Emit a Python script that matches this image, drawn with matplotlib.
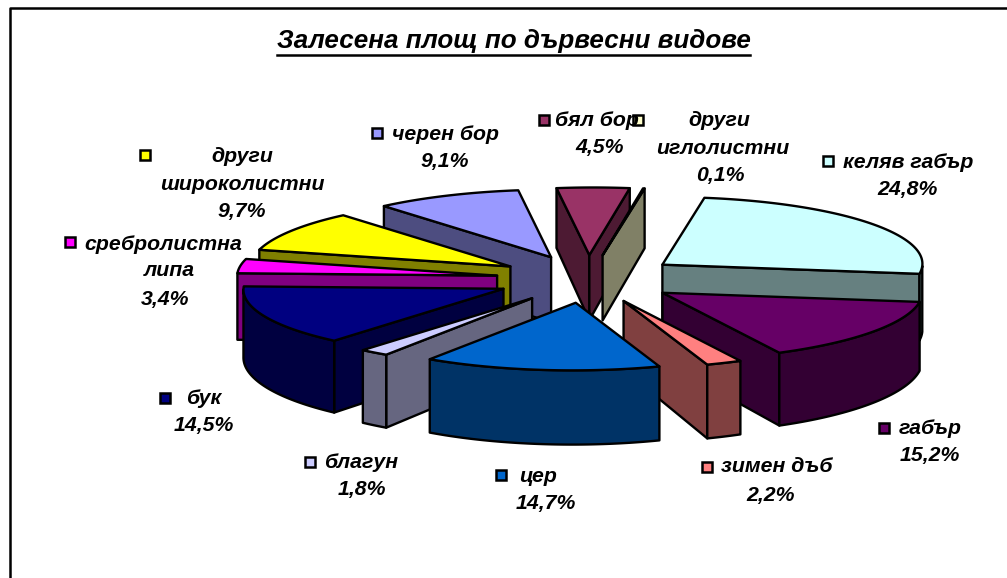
import numpy as np
import matplotlib
matplotlib.use("Agg")
import matplotlib.pyplot as plt
from matplotlib.patches import Polygon, Rectangle

plt.rcParams["font.family"] = ["Liberation Sans", "DejaVu Sans"]

# data, clockwise from the top of the pie
species = ["келяв габър", "габър", "зимен дъб", "цер", "благун", "бук",
           "сребролистна липа", "други широколистни", "черен бор", "бял бор",
           "други иглолистни"]
shares = [24.8, 15.2, 2.2, 14.7, 1.8, 14.5, 3.4, 9.7, 9.1, 4.5, 0.1]
colors = ["#CCFFFF", "#660066", "#FF8080", "#0066CC", "#CCCCFF", "#000080",
          "#FF00FF", "#FFFF00", "#9999FF", "#993366", "#FFFFCC"]
title = "Залесена площ по дървесни видове"

# label lines as they break in the picture
label_lines = [["келяв габър"], ["габър"], ["зимен дъб"], ["цер"], ["благун"], ["бук"],
               ["сребролистна", "липа"], ["други", "широколистни"], ["черен бор"],
               ["бял бор"], ["други", "иглолистни"]]

# layout, image pixels: legend key, then centre of each text line
label_layout = [
    ((828, 161), [(908, 163), (908, 190)]),
    ((884, 428), [(930, 428), (930, 456)]),
    ((707, 467), [(777, 467), (771, 495)]),
    ((501, 475), [(538, 476), (546, 503)]),
    ((310, 462), [(361, 463), (362, 490)]),
    ((165, 398), [(204, 398), (204, 425)]),
    ((70, 242), [(163, 244), (169, 271), (165, 299)]),
    ((145, 155), [(242, 156), (242, 184), (242, 211)]),
    ((377, 133), [(445, 134), (445, 161)]),
    ((544, 120), [(597, 120), (600, 148)]),
    ((638, 120), [(719, 120), (723, 148), (720, 176)]),
]

# pie geometry in image pixels
cx, cy = 588.0, 279.0
rx = 260.0
tilt = 0.26
skew = 0.014   # the pie leans a little to the right at the back
explode = 92.0
height = 67.0
persp = 0.08   # walls get taller towards the viewer
start = 8.5
edge = dict(edgecolor="black", linewidth=1.7, joinstyle="round")


def project(a, r, off, z=0.0):
    # a: clockwise angle from the back of the pie, off: explosion of the slice centre
    wx = off[0] + r * np.sin(a)
    wy = off[1] + r * np.cos(a)
    return cx + wx + skew * wy, cy - tilt * wy + z * (1 - persp * wy / rx)


def draw_slice(ax, a0, a1, color):
    mid = (a0 + a1) / 2
    off = (explode * np.sin(mid), explode * np.cos(mid))
    dark = tuple(0.5 * c for c in matplotlib.colors.to_rgb(color))
    arc = np.linspace(a0, a1, 80)

    def wall(ang):
        p = [project(ang, 0, off), project(ang, rx, off),
             project(ang, rx, off, height), project(ang, 0, off, height)]
        ax.add_patch(Polygon(p, closed=True, facecolor=dark, **edge))

    # only faces turned to the viewer
    if np.sin(a0) < 0:
        wall(a0)
    if np.sin(a1) > 0:
        wall(a1)

    front = arc[np.cos(arc) < 0]
    if len(front) > 1:
        tx, ty = project(front, rx, off)
        bx, by = project(front, rx, off, height)
        p = np.column_stack([np.r_[tx, bx[::-1]], np.r_[ty, by[::-1]]])
        ax.add_patch(Polygon(p, closed=True, facecolor=dark, **edge))

    tx, ty = project(arc, rx, off)
    ax0, ay0 = project(a0, 0, off)
    p = np.column_stack([np.r_[ax0, tx], np.r_[ay0, ty]])
    ax.add_patch(Polygon(p, closed=True, facecolor=color, **edge))


fig = plt.figure(figsize=(10.07, 5.78), dpi=100)
ax = fig.add_axes([0, 0, 1, 1])
ax.set_xlim(0, 1007)
ax.set_ylim(578, 0)
ax.axis("off")

# chart frame, cut off by the image on the right and at the bottom
ax.plot([9.5, 9.5, 1007], [578, 7.5, 7.5], color="black", lw=1.8)

angles = np.radians(start + np.r_[0, np.cumsum(shares)] * 3.6)
slices = list(zip(angles[:-1], angles[1:], colors))
slices.sort(key=lambda t: -np.cos((t[0] + t[1]) / 2))
for a0, a1, col in slices:
    draw_slice(ax, a0, a1, col)

# title with its underline
tt = ax.text(513.5, 41, title, ha="center", va="center", fontsize=18.7, fontweight="bold",
             fontstyle="italic", color="black")
fig.canvas.draw()
bb = tt.get_window_extent().transformed(ax.transData.inverted())
ax.plot([bb.x0, bb.x1], [55, 55], color="black", lw=1.8)

# data labels with legend keys
for lines, share, col, (key, pos) in zip(label_lines, shares, colors, label_layout):
    ax.add_patch(Rectangle((key[0] - 5, key[1] - 5), 10, 10, facecolor=col,
                           edgecolor="black", linewidth=1.8))
    value = f"{share:.1f}%".replace(".", ",")
    for s, (x, y) in zip(lines + [value], pos):
        ax.text(x, y, s, ha="center", va="center", fontsize=15.3, fontweight="bold",
                fontstyle="italic", color="black")

fig.savefig("out.png", dpi=100)
